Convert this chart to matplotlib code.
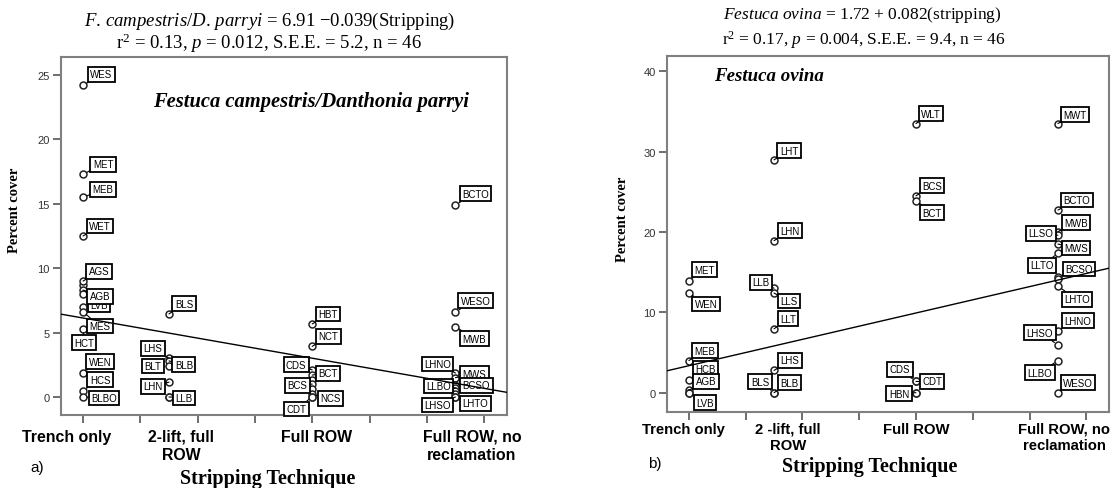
import matplotlib.pyplot as plt

plt.rcParams['font.family'] = 'serif'
plt.rcParams['font.serif'] = ['Liberation Serif', 'DejaVu Serif']
plt.rcParams['mathtext.fontset'] = 'custom'
plt.rcParams['mathtext.rm'] = 'Liberation Serif'
plt.rcParams['mathtext.it'] = 'Liberation Serif:italic'
plt.rcParams['mathtext.bf'] = 'Liberation Serif:bold'

SANS = 'Liberation Sans'
W, H = 1114, 489

# Stripping technique codes and names
strip_codes = [20, 50, 100, 150]
strip_names_a = ['Trench only', '2-lift, full\nROW', 'Full ROW', 'Full ROW, no\nreclamation']
strip_names_b = ['Trench only', '2 -lift, full\nROW', 'Full ROW', 'Full ROW, no\nreclamation']

# a) Festuca campestris / Danthonia parryi cover by site
fc_trench = [24.2, 17.3, 15.5, 12.5, 8.7, 9.0, 7.0, 8.3, 8.0, 6.6, 5.3, 1.9, 0.5, 0.0]
fc_trench_ids = ['WES', 'MET', 'MEB', 'WET', '', 'AGS', 'LVB', 'AGB', '', 'MES', 'HCT', 'WEN', 'HCS', 'BLBO']
fc_2lift = [6.45, 3.0, 2.8, 2.4, 1.15, 0.0, 0.0]
fc_2lift_ids = ['BLS', 'LHS', 'BLB', 'BLT', 'LHN', 'LLB', '']
fc_full = [5.67, 3.93, 2.1, 1.7, 1.3, 1.0, 0.6, 0.2, 0.0, 0.0]
fc_full_ids = ['HBT', 'NCT', 'CDS', 'BCT', '', 'BCS', '', 'NCS', 'CDT', '']
fc_norecl = [14.93, 6.62, 5.46, 1.86, 1.5, 0.9, 0.7, 0.45, 0.2, 0.0, 0.0]
fc_norecl_ids = ['BCTO', 'WESO', 'MWB', 'LHNO', 'MWS', 'BCSO', 'LLBO', '', 'LHTO', 'LHSO', '']

# b) Festuca ovina cover by site
fo_trench = [13.95, 12.4, 4.0, 1.6, 0.3, 0.0, 0.0]
fo_trench_ids = ['MET', 'WEN', 'MEB', 'HCB', 'AGB', 'LVB', '']
fo_2lift = [28.98, 18.92, 13.0, 12.4, 7.95, 2.77, 0.0, 0.0]
fo_2lift_ids = ['LHT', 'LHN', 'LLB', 'LLS', 'LLT', 'LHS', 'BLS', 'BLB']
fo_full = [33.5, 24.5, 23.9, 1.4, 1.4, 0.0, 0.0]
fo_full_ids = ['WLT', 'BCS', 'BCT', 'CDS', 'CDT', 'HBN', '']
fo_norecl = [33.5, 22.73, 20.04, 19.6, 18.5, 17.35, 14.4, 14.1, 13.25, 7.74, 5.96, 4.0, 0.0]
fo_norecl_ids = ['MWT', 'BCTO', 'MWB', 'LLSO', 'MWS', 'LLTO', 'BCSO', '', 'LHTO', 'LHNO', 'LHSO', 'LLBO', 'WESO']

# regression coefficients (intercept, slope)
fc_fit = (6.91, -0.039)
fo_fit = (1.72, 0.082)

# label box offsets in pixels (dx, dy) for each site point
fc_offsets = [
    [(18, 11), (20, 10), (20, 8), (17, 10), (16, 0), (16, 10), (16, 2), (17, -6), (0, 0),
     (17, -14), (1, -14), (17, 11), (17, 11), (21, -1)],
    [(15, 10), (-16, 10), (15, -4), (-16, 0), (-16, -4), (15, -1), (0, 0)],
    [(16, 10), (16, 10), (-16, 5), (16, 2), (0, 0), (-15, -1), (0, 0), (18, -4), (-16, -12), (0, 0)],
    [(20, 11), (20, 11), (19, -12), (-18, 9), (19, 4), (21, 0), (-17, 2), (0, 0), (20, -9), (-18, -8), (0, 0)],
]
fo_offsets = [
    [(16, 11), (17, -11), (16, 10), (17, 11), (17, 9), (16, -10), (0, 0)],
    [(15, 9), (16, 10), (-13, 6), (15, -8), (14, 10), (16, 10), (-14, 11), (15, 10)],
    [(15, 10), (16, 10), (16, -12), (-16, 12), (16, 0), (-17, -1), (0, 0)],
    [(17, 9), (19, 10), (18, 9), (-17, 2), (18, -4), (-16, -12), (21, 8), (0, 0), (19, -13),
     (20, 10), (-18, 12), (-18, -12), (20, 10)],
]


def fx(x):
    return x / W


def fy(y):
    return 1 - y / H


def draw_panel(ax, groups, ids, offsets, fit, ylim, yticks):
    for code, vals, names, offs in zip(strip_codes, groups, ids, offsets):
        xs = [code] * len(vals)
        ax.plot(xs, vals, 'o', ms=5, mfc='white', mec='#222222', mew=1.1, zorder=3)
        for v, name, (dx, dy) in zip(vals, names, offs):
            if not name:
                continue
            ax.annotate(name, (code, v), xytext=(dx, dy), textcoords='offset pixels',
                        ha='center', va='center', fontsize=7, family=SANS,
                        bbox=dict(boxstyle='square,pad=0.25', fc='white', ec='black', lw=1.3),
                        arrowprops=dict(arrowstyle='-', color='black', lw=0.8,
                                        shrinkA=0, shrinkB=3),
                        zorder=4)
    x0, x1 = 12.3, 168
    a, b = fit
    ax.plot([x0, x1], [a + b * x0, a + b * x1], color='black', lw=1.0, zorder=5)
    ax.set_xlim(x0, x1)
    ax.set_ylim(*ylim)
    ax.set_xticks(range(20, 161, 20))
    ax.set_xticklabels([])
    ax.set_yticks(yticks)
    ax.tick_params(direction='out', length=6, width=1.2, color='#555555',
                   labelsize=8, labelfontfamily=SANS, labelcolor='#333333', pad=2)
    for s in ax.spines.values():
        s.set_color('#808080')
        s.set_linewidth(1.5)


fig = plt.figure(figsize=(W / 100, H / 100), dpi=100)
ax_a = fig.add_axes([fx(61), fy(416), (507 - 61) / W, (416 - 58) / H])
ax_b = fig.add_axes([fx(667), fy(413), (1109 - 667) / W, (413 - 57) / H])

draw_panel(ax_a, [fc_trench, fc_2lift, fc_full, fc_norecl],
           [fc_trench_ids, fc_2lift_ids, fc_full_ids, fc_norecl_ids],
           fc_offsets, fc_fit, (-1.4, 26.4), range(0, 26, 5))
draw_panel(ax_b, [fo_trench, fo_2lift, fo_full, fo_norecl],
           [fo_trench_ids, fo_2lift_ids, fo_full_ids, fo_norecl_ids],
           fo_offsets, fo_fit, (-2.4, 41.9), range(0, 41, 10))

# species names inside the plots
ax_a.text(0.206, 0.877, 'Festuca campestris/Danthonia parryi', transform=ax_a.transAxes,
          fontsize=14.8, fontweight='bold', fontstyle='italic', va='center')
ax_b.text(0.106, 0.944, 'Festuca ovina', transform=ax_b.transAxes,
          fontsize=13.6, fontweight='bold', fontstyle='italic', va='center')

# regression equations above the plots
fig.text(fx(270), fy(21), r'$\mathit{F.\,campestris/D.\,parryi}$ = 6.91 $-$0.039(Stripping)',
         ha='center', va='center', fontsize=13.5)
fig.text(fx(269), fy(43), r'r$^2$ = 0.13, $\mathit{p}$ = 0.012, S.E.E. = 5.2, n = 46',
         ha='center', va='center', fontsize=13.5)
fig.text(fx(862), fy(15), r'$\mathit{Festuca\ ovina}$ = 1.72 + 0.082(stripping)',
         ha='center', va='center', fontsize=12.5)
fig.text(fx(864), fy(40), r'r$^2$ = 0.17, $\mathit{p}$ = 0.004, S.E.E. = 9.4, n = 46',
         ha='center', va='center', fontsize=12.5)

# category names under the axes
for xc, name in zip([67, 181, 317, 472], strip_names_a):
    fig.text(fx(xc), fy(430), name, ha='center', va='top', fontsize=11.4,
             fontweight='bold', family=SANS, linespacing=1.25)
for xc, name in zip([683, 788, 916, 1064], strip_names_b):
    fig.text(fx(xc), fy(423), name, ha='center', va='top', fontsize=10.7,
             fontweight='bold', family=SANS, linespacing=1.2)

# axis titles
fig.text(fx(268), fy(479), 'Stripping Technique', ha='center', va='center',
         fontsize=14.5, fontweight='bold')
fig.text(fx(870), fy(467), 'Stripping Technique', ha='center', va='center',
         fontsize=14.5, fontweight='bold')
fig.text(fx(15), fy(210), 'Percent cover', ha='center', va='center', rotation=90,
         fontsize=10.5, fontweight='bold')
fig.text(fx(623), fy(219), 'Percent cover', ha='center', va='center', rotation=90,
         fontsize=10.5, fontweight='bold')

# panel letters
fig.text(fx(37), fy(468), 'a)', ha='center', va='center', fontsize=11, family=SANS)
fig.text(fx(655), fy(464), 'b)', ha='center', va='center', fontsize=11, family=SANS)

fig.savefig('out.png', dpi=100)
plt.close(fig)
